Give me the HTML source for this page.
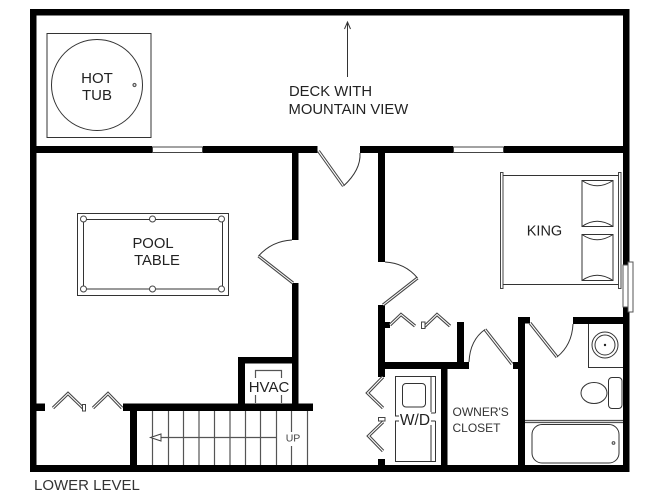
<!DOCTYPE html>
<html><head><meta charset="utf-8"><style>
html,body{margin:0;padding:0;background:#fff;width:667px;height:500px;overflow:hidden}
svg{display:block;filter:blur(0.3px)}
text{font-family:"Liberation Sans",sans-serif;fill:#222}
.t{fill:none;stroke:#333;stroke-width:1}
.g{fill:none;stroke:#555;stroke-width:1.2}
.d{fill:none;stroke:#444;stroke-width:3.2}
.di{fill:none;stroke:#fff;stroke-width:1.1}
</style></head><body>
<svg width="667" height="500" viewBox="0 0 667 500" xmlns="http://www.w3.org/2000/svg">
<rect width="667" height="500" fill="#fff"/>
<g fill="#000">
<rect x="30" y="9" width="599" height="6.5"/>
<rect x="30" y="9" width="6.5" height="463"/>
<rect x="30" y="465" width="599" height="7"/>
<rect x="623" y="9" width="6.5" height="256"/>
<rect x="623" y="307" width="6.5" height="165"/>
<rect x="36" y="146" width="116" height="7"/>
<rect x="203" y="146" width="114.500" height="7"/>
<rect x="360" y="146" width="93" height="7"/>
<rect x="504" y="146" width="119" height="7"/>
<rect x="292" y="153" width="6.500" height="87"/>
<rect x="292" y="283" width="6.500" height="121"/>
<rect x="238" y="357" width="60" height="6.500"/>
<rect x="238" y="357" width="7" height="47"/>
<rect x="123" y="403.500" width="190" height="7.500"/>
<rect x="36" y="403.500" width="9" height="7.500"/>
<rect x="130" y="411" width="7" height="54"/>
<rect x="378" y="153" width="7" height="109"/>
<rect x="378" y="305" width="7" height="72"/>
<rect x="385" y="322" width="5" height="6"/>
<rect x="378" y="362" width="91" height="7"/>
<rect x="457" y="322" width="7" height="40"/>
<rect x="441" y="369" width="6.500" height="96"/>
<rect x="518" y="317" width="7" height="148"/>
<rect x="525" y="317" width="5" height="6.500"/>
<rect x="513" y="362" width="5" height="7"/>
<rect x="573" y="317" width="50" height="7"/>
<rect x="378" y="459" width="7" height="6"/>
</g>
<!-- windows -->
<g fill="#fff" stroke="#444" stroke-width="1">
<rect x="152.500" y="147" width="50" height="5.500"/>
<rect x="453.500" y="147" width="50" height="5.500"/>
</g>
<rect x="628" y="262" width="5" height="50" fill="#fff" stroke="#555" stroke-width="1"/>
<rect x="623" y="265" width="5" height="42" fill="#fff" stroke="#555" stroke-width="1"/>
<!-- doors -->
<g>
<path class="d" d="M318.500 151L343.500 186"/><path class="di" d="M318.500 151L343.500 186"/>
<path class="t" d="M343.500 186Q361 170 360 153"/>
<path class="d" d="M293 283L258.500 256"/><path class="di" d="M293 283L258.500 256"/>
<path class="t" d="M258.500 256Q272 241 292 240"/>
<path class="d" d="M383 305L417.500 278"/><path class="di" d="M383 305L417.500 278"/>
<path class="t" d="M417.500 278Q405 263 385 262"/>
<path class="d" d="M512 364L485 329.500"/><path class="di" d="M512 364L485 329.500"/>
<path class="t" d="M485 329.500Q470 340 469 362"/>
<path class="d" d="M530 323L557 357"/><path class="di" d="M530 323L557 357"/>
<path class="t" d="M557 357Q572 345 573 324"/>
</g>
<!-- bifolds -->
<g>
<path class="d" d="M390 325L401 314.500L415 326M424 327L437 314.500L450 326"/>
<path class="di" d="M390 325L401 314.500L415 326M424 327L437 314.500L450 326"/>
<path class="d" d="M53 408L68 393.500L83 408M93 408L108 393.500L122 408"/>
<path class="di" d="M53 408L68 393.500L83 408M93 408L108 393.500L122 408"/>
<path class="d" d="M383 377L367.500 393L383 408M383 422L368.500 436L383 451"/>
<path class="di" d="M383 377L367.500 393L383 408M383 422L368.500 436L383 451"/>
<rect x="82.500" y="404.500" width="3" height="6.500" fill="#fff" stroke="#444"/>
<rect x="421.500" y="322" width="3.500" height="6.500" fill="#fff" stroke="#444"/>
<rect x="378.500" y="417.500" width="6.500" height="3.500" fill="#fff" stroke="#444"/>
</g>
<!-- hot tub -->
<rect class="t" x="47" y="33.500" width="104" height="104"/>
<circle class="t" cx="97" cy="85" r="45.500"/>
<circle class="g" cx="134.500" cy="85" r="1.500"/>
<text x="97" y="83" font-size="15" text-anchor="middle">HOT</text>
<text x="97" y="100" font-size="15" text-anchor="middle">TUB</text>
<!-- deck -->
<path class="t" d="M347.500 77V22M344.500 29L347.500 22L350.500 29"/>
<text x="289" y="96" font-size="14.800">DECK WITH</text>
<text x="288.500" y="114" font-size="14.800">MOUNTAIN VIEW</text>
<!-- pool table -->
<rect class="t" x="77.500" y="213.500" width="151" height="82"/>
<rect class="t" x="83.500" y="219.500" width="139" height="69.500"/>
<g fill="#fff" stroke="#444">
<circle cx="83.500" cy="219" r="3"/><circle cx="152.500" cy="219" r="3"/><circle cx="221.500" cy="219" r="3"/>
<circle cx="83.500" cy="289" r="3"/><circle cx="152.500" cy="289" r="3"/><circle cx="221.500" cy="289" r="3"/>
</g>
<text x="153" y="248" font-size="14.800" text-anchor="middle">POOL</text>
<text x="157" y="265" font-size="14.800" text-anchor="middle">TABLE</text>
<!-- bed -->
<rect x="500.500" y="172.500" width="2.500" height="116" fill="#fff" stroke="#444"/>
<rect x="618.500" y="172.500" width="2.500" height="116" fill="#fff" stroke="#444"/>
<path class="t" d="M503 175.500H618.500M503 284.500H618.500"/>
<rect class="t" x="582" y="180.500" width="31" height="46"/>
<rect class="t" x="582" y="234.500" width="31" height="46"/>
<path class="t" d="M582 180.500Q597 191 613 180.500M582 226.500Q597 216 613 226.500M582 234.500Q597 245 613 234.500M582 280.500Q597 270 613 280.500"/>
<text x="544.500" y="235.500" font-size="14.500" text-anchor="middle">KING</text>
<!-- HVAC -->
<path class="g" d="M255.500 378V370.500H281.500V378M255.500 395V403M281.500 395V403"/>
<text x="269" y="392" font-size="15" text-anchor="middle">HVAC</text>
<!-- stairs -->
<path class="g" d="M152.500 411V465M168.500 411V465M183.500 411V465M199 411V465M214.500 411V465M230 411V465M245.500 411V465M260.500 411V465M276.500 411V465M291.500 411V432M291.500 446V465M307.500 411V465"/>
<path class="g" d="M276 437.500H161"/>
<path fill="#fff" stroke="#444" d="M150.500 437.500L161 434V441Z"/>
<text x="293" y="441.500" font-size="10.500" text-anchor="middle" style="fill:#444">UP</text>
<!-- W/D -->
<path class="t" d="M395.500 416V376.500H435.500V413M395.500 423V461.500H435.500V421"/>
<path class="t" d="M431 376.500V413M431 421V461.500"/>
<rect class="t" x="402.500" y="383.500" width="23" height="23.500" rx="3.500"/>
<rect x="398" y="412" width="36" height="13" fill="#fff"/>
<text x="415" y="425" font-size="15.500" text-anchor="middle">W/D</text>
<path class="t" d="M395.500 412V416H399M395.500 423V421H399M431 413H435.500M431 421H435.500"/>
<!-- Owner's closet -->
<text x="452.500" y="416" font-size="12" style="fill:#333">OWNER'S</text>
<text x="452.500" y="432" font-size="12" style="fill:#333">CLOSET</text>
<!-- bath -->
<path class="t" d="M588.500 324V367.500H623"/>
<circle class="t" cx="605" cy="345" r="13"/>
<circle class="t" cx="605" cy="345" r="10"/>
<circle cx="605" cy="345" r="1.200" fill="#222"/>
<ellipse class="t" cx="594" cy="393" rx="13" ry="10.500"/>
<rect class="t" x="608.500" y="377.500" width="13.500" height="31" rx="3.500" style="fill:#fff"/>
<path class="g" d="M525 420.500H623M525 422.500H623"/>
<rect class="t" x="532" y="424.500" width="87" height="38.500" rx="10"/>
<circle class="g" cx="613.500" cy="443" r="1.300"/>
<!-- label -->
<text x="34" y="490" font-size="15" style="fill:#333">LOWER LEVEL</text>
</svg>
</body></html>
